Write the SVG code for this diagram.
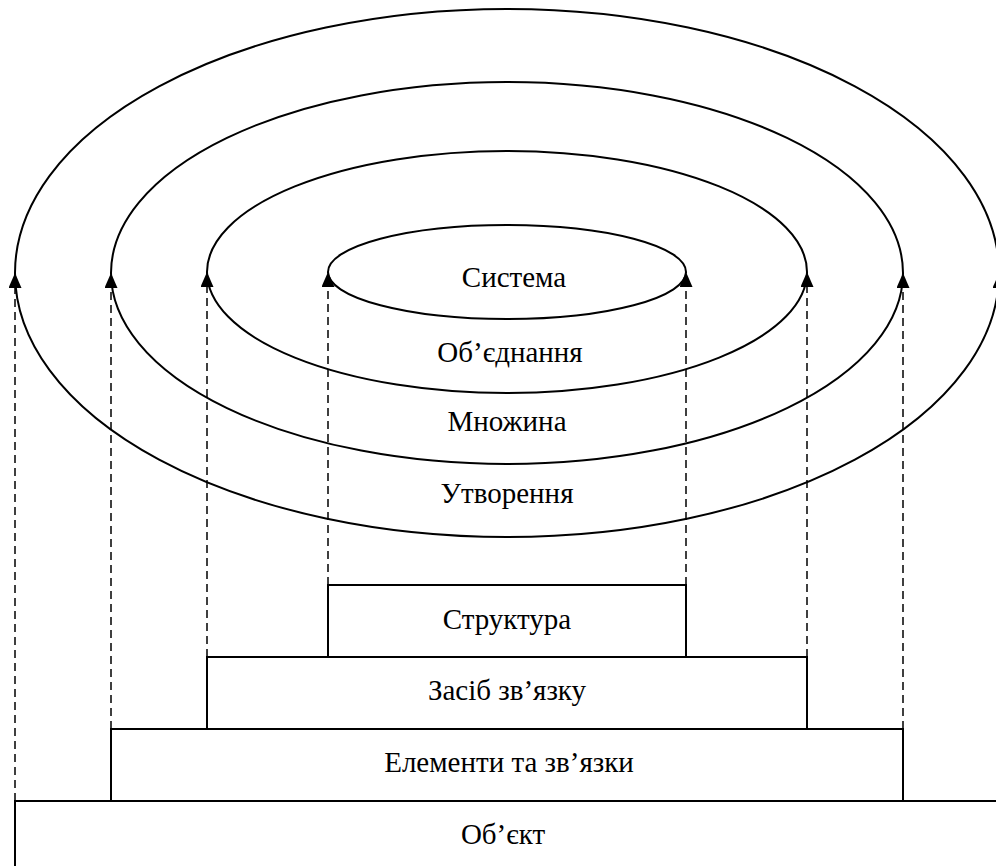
<svg xmlns="http://www.w3.org/2000/svg" width="996" height="866" viewBox="0 0 996 866">
  <style>
    .ring { fill: none; stroke: #000; stroke-width: 2; }
    .box { fill: #fff; stroke: #000; stroke-width: 2; }
    .lbl { font-family: 'Liberation Serif', 'DejaVu Serif', serif; font-size: 29px; fill: #000; text-anchor: middle; }
    .link { fill: none; stroke: #000; stroke-width: 1.5; stroke-dasharray: 8 5; marker-end: url(#tip); }
  </style>
  <defs>
    <!-- filled triangle pointing along the path direction -->
    <marker id="tip" viewBox="0 0 15 13" refX="15" refY="6.5" markerWidth="15" markerHeight="13" markerUnits="userSpaceOnUse" orient="auto">
      <path d="M0,0 L15,6.5 L0,13 Z" fill="#000"/>
    </marker>
  </defs>
  <rect width="996" height="866" fill="#fff"/>

  <!-- nested levels -->
  <g id="utvorennia">
    <ellipse class="ring" cx="507" cy="273" rx="492" ry="264"/>
    <text class="lbl" x="507" y="503">Утворення</text>
  </g>
  <g id="mnozhyna">
    <ellipse class="ring" cx="507" cy="273" rx="396" ry="191"/>
    <text class="lbl" x="507" y="431">Множина</text>
  </g>
  <g id="obiednannia">
    <ellipse class="ring" cx="507" cy="272" rx="300" ry="121"/>
    <text class="lbl" x="510" y="362">Об’єднання</text>
  </g>
  <g id="systema">
    <ellipse class="ring" cx="507" cy="272" rx="179" ry="47"/>
    <text class="lbl" x="514" y="287">Система</text>
  </g>

  <!-- base blocks -->
  <g id="obiekt">
    <rect class="box" x="15" y="801" width="1000" height="80"/>
    <text class="lbl" x="503" y="844">Об’єкт</text>
  </g>
  <g id="elementy">
    <rect class="box" x="111" y="729" width="792" height="72"/>
    <text class="lbl" x="509" y="772">Елементи та зв’язки</text>
  </g>
  <g id="zasib">
    <rect class="box" x="207" y="657" width="600" height="72"/>
    <text class="lbl" x="507" y="700">Засіб зв’язку</text>
  </g>
  <g id="struktura">
    <rect class="box" x="328" y="585" width="358" height="72"/>
    <text class="lbl" x="507" y="629">Структура</text>
  </g>

  <!-- connectors -->
  <g id="connectors">
    <path class="link" d="M15,801 V273"/>
    <path class="link" d="M111,729 V273"/>
    <path class="link" d="M207,657 V272"/>
    <path class="link" d="M328,585 V272"/>
    <path class="link" d="M686,585 V272"/>
    <path class="link" d="M807,657 V272"/>
    <path class="link" d="M903,729 V273"/>
    <path class="link" d="M999,801 V273"/>
  </g>
</svg>
